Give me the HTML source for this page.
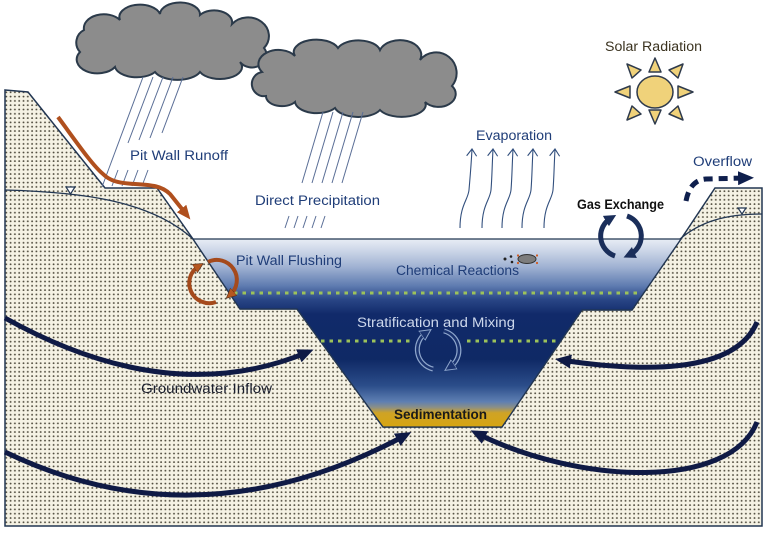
<!DOCTYPE html>
<html><head><meta charset="utf-8"><style>
html,body{margin:0;padding:0;background:#fff;}
svg{display:block;}
text{font-family:"Liberation Sans",sans-serif;}
</style></head><body>
<svg width="768" height="534" viewBox="0 0 768 534" xmlns="http://www.w3.org/2000/svg">
<defs>
<pattern id="dots" width="4.3" height="4.3" patternUnits="userSpaceOnUse">
<rect width="4.3" height="4.3" fill="#f5f2e4"/>
<circle cx="2" cy="2" r="0.9" fill="#4e4a3c"/>
</pattern>
<linearGradient id="water" gradientUnits="userSpaceOnUse" x1="0" y1="239" x2="0" y2="427">
<stop offset="0" stop-color="#e8edf5"/>
<stop offset="0.06" stop-color="#cdd7e8"/>
<stop offset="0.15" stop-color="#9fb1d2"/>
<stop offset="0.25" stop-color="#5e7bb0"/>
<stop offset="0.32" stop-color="#2a4787"/>
<stop offset="0.40" stop-color="#112a6a"/>
<stop offset="0.64" stop-color="#0f2965"/>
<stop offset="0.78" stop-color="#2b4d8a"/>
<stop offset="0.865" stop-color="#5e7fb2"/>
<stop offset="0.895" stop-color="#8a8f88"/>
<stop offset="0.925" stop-color="#cfa325"/>
<stop offset="1" stop-color="#d6a512"/>
</linearGradient>
<marker id="navyHead" markerUnits="userSpaceOnUse" viewBox="0 0 16 14" markerWidth="16" markerHeight="14" refX="10" refY="7" orient="auto">
<path d="M0,0 L16,7 L0,14 Z" fill="#0f1a45"/>
</marker>
<marker id="gasHead" markerUnits="userSpaceOnUse" viewBox="0 0 12 12" markerWidth="12" markerHeight="12" refX="6" refY="6" orient="auto">
<path d="M0,0 L12,6 L0,12 Z" fill="#1a2e5a"/>
</marker>
<marker id="brownHead" markerUnits="userSpaceOnUse" viewBox="0 0 14 12" markerWidth="14" markerHeight="12" refX="7" refY="6" orient="auto">
<path d="M0,0 L14,6 L0,12 Z" fill="#b0501e"/>
</marker>
<marker id="brownHead2" markerUnits="userSpaceOnUse" viewBox="0 0 10 10" markerWidth="10" markerHeight="10" refX="5" refY="5" orient="auto">
<path d="M0,0 L10,5 L0,10 Z" fill="#b5561f" stroke="#4a2a18" stroke-width="0.6"/>
</marker>
<marker id="strHead" markerUnits="userSpaceOnUse" viewBox="0 0 12 12" markerWidth="12" markerHeight="12" refX="5" refY="6" orient="auto">
<path d="M0,0.5 L11,6 L0,11.5 Z" fill="#1a3370" stroke="#8ea6cc" stroke-width="1"/>
</marker>
<marker id="evapHead" markerUnits="userSpaceOnUse" viewBox="0 0 10 12" markerWidth="10" markerHeight="12" refX="8" refY="6" orient="auto">
<path d="M1,1 L8,6 L1,11" fill="none" stroke="#33507e" stroke-width="1.1"/>
</marker>
<marker id="ovHead" markerUnits="userSpaceOnUse" viewBox="0 0 16 14" markerWidth="16" markerHeight="14" refX="8" refY="7" orient="auto">
<path d="M0,0 L16,7 L0,14 Z" fill="#0f1f4d"/>
</marker>
</defs>

<!-- ground -->
<polygon points="5,90 28,92 105,188 157,188 193,239 240,309 297,309 383,427 502,427 582,310 632,310 681,239 715,188 762,188 762,526 5,526" fill="url(#dots)" stroke="#223652" stroke-width="1.5"/>

<!-- water -->
<polygon points="193,239 681,239 632,310 582,310 502,427 383,427 297,309 240,309" fill="url(#water)" stroke="#223652" stroke-width="1.3"/>

<!-- water tables -->
<path d="M5,190 C80,192 150,200 193,239" fill="none" stroke="#223652" stroke-width="1.3"/>
<polygon points="66,187 75,187 70.5,194" fill="#fff" stroke="#223652" stroke-width="1.2"/>
<path d="M680,239 C700,222 725,214 762,214" fill="none" stroke="#223652" stroke-width="1.3"/>
<polygon points="738,208 746,208 742,214" fill="#fff" stroke="#223652" stroke-width="1.2"/>

<!-- green dotted layers -->
<line x1="234" y1="293" x2="642" y2="293" stroke="#9cc25a" stroke-width="3" stroke-dasharray="3.5 5"/>
<line x1="321" y1="341" x2="410" y2="341" stroke="#9cc25a" stroke-width="3" stroke-dasharray="3.5 5"/>
<line x1="467" y1="341" x2="559" y2="341" stroke="#9cc25a" stroke-width="3" stroke-dasharray="3.5 5"/>

<!-- clouds -->
<path d="M80,52 A14,14 0 0 1 84,30 A20,14 0 0 1 120,20 A20,12 0 0 1 160,14 A20,12 0 0 1 200,15 A18,12 0 0 1 232,24 A18,16 0 0 1 264,48 A14,12 0 0 1 240,62 A22,12 0 0 1 200,72 A24,12 0 0 1 155,72 A22,12 0 0 1 115,67 A18,12 0 0 1 80,52 Z" fill="#8c8c8c" stroke="#2b3a4a" stroke-width="2"/>
<path d="M266,96 A12,12 0 0 1 262,72 A20,14 0 0 1 295,56 A22,12 0 0 1 338,48 A22,12 0 0 1 380,50 A20,14 0 0 1 420,60 A16,16 0 0 1 452,86 A16,12 0 0 1 425,102 A24,12 0 0 1 380,110 A24,12 0 0 1 335,108 A22,12 0 0 1 295,102 A16,10 0 0 1 266,96 Z" fill="#8c8c8c" stroke="#2b3a4a" stroke-width="2"/>

<!-- rain cloud 1 -->
<g stroke="#5a6e96" stroke-width="1" fill="none">
<line x1="143" y1="77" x2="102" y2="187"/>
<line x1="153" y1="77" x2="128" y2="143"/>
<line x1="163" y1="77" x2="139" y2="140"/>
<line x1="173" y1="77" x2="150" y2="138"/>
<line x1="183" y1="77" x2="162" y2="133"/>
<line x1="118" y1="170" x2="112" y2="186"/>
<line x1="128" y1="170" x2="122" y2="186"/>
<line x1="138" y1="170" x2="132" y2="186"/>
<line x1="148" y1="170" x2="142" y2="186"/>
<!-- rain cloud 2 -->
<line x1="323" y1="112" x2="302" y2="183"/>
<line x1="333" y1="112" x2="312" y2="183"/>
<line x1="343" y1="112" x2="322" y2="183"/>
<line x1="353" y1="112" x2="332" y2="183"/>
<line x1="363" y1="112" x2="342" y2="183"/>
<line x1="289" y1="216" x2="285" y2="228"/>
<line x1="298" y1="216" x2="294" y2="228"/>
<line x1="307" y1="216" x2="303" y2="228"/>
<line x1="316" y1="216" x2="312" y2="228"/>
<line x1="325" y1="216" x2="321" y2="228"/>
</g>

<!-- runoff arrow -->
<path d="M58,117 C75,140 92,165 103,174 C110,181 118,183 135,184 C152,185 162,186 170,194 L186,214" fill="none" stroke="#b0501e" stroke-width="4" marker-end="url(#brownHead)"/>

<!-- sun -->
<g fill="#f0d27a" stroke="#2e3a4c" stroke-width="1.5" stroke-linejoin="round">
<polygon points="655,58 649,72 661,72"/>
<polygon points="655,124 649,110 661,110"/>
<polygon points="615,92 630,86 630,98"/>
<polygon points="693,92 678,86 678,98"/>
<polygon points="627,64 632,78 641,70"/>
<polygon points="683,64 678,78 669,70"/>
<polygon points="627,120 632,106 641,114"/>
<polygon points="683,120 678,106 669,114"/>
<ellipse cx="655" cy="92" rx="18" ry="16"/>
</g>

<!-- evaporation -->
<g fill="none" stroke="#33507e" stroke-width="1.1" marker-end="url(#evapHead)">
<path d="M460,228 C460,205 468,200 469,190 C470,178 471,168 472,149"/>
<path d="M482,228 C482,205 490,200 491,190 C492,178 492,168 493,149"/>
<path d="M502,228 C502,205 510,200 511,190 C512,178 512,168 513,149"/>
<path d="M522,228 C522,205 530,200 531,190 C532,178 532,168 533,149"/>
<path d="M544,228 C544,205 552,200 553,190 C554,178 554,168 555,149"/>
</g>

<!-- gas exchange -->
<g fill="none" stroke="#1a2e5a" stroke-width="5">
<path d="M615,256 A21,21 0 0 1 611,218" marker-end="url(#gasHead)"/>
<path d="M627,216 A21,21 0 0 1 629,255" marker-end="url(#gasHead)"/>
</g>

<!-- overflow -->
<path d="M686,201 Q690,180 706,179 L746,178" fill="none" stroke="#0f1f4d" stroke-width="5" stroke-dasharray="9 6" marker-end="url(#ovHead)"/>

<!-- pit wall flushing -->
<g fill="none" stroke="#a54a1c" stroke-width="4">
<path d="M216,302 A20,20 0 0 1 199,266" marker-end="url(#brownHead2)"/>
<path d="M208,262 A20,20 0 0 1 230,295" marker-end="url(#brownHead2)"/>
</g>

<!-- stratification mixing arrows -->
<g fill="none">
<path d="M433,369 A20,20 0 0 1 426,333" stroke="#8ea6cc" stroke-width="5"/>
<path d="M433,369 A20,20 0 0 1 426,333" stroke="#1a3370" stroke-width="2.5" marker-end="url(#strHead)"/>
<path d="M444,331 A20,20 0 0 1 450,367" stroke="#8ea6cc" stroke-width="5"/>
<path d="M444,331 A20,20 0 0 1 450,367" stroke="#1a3370" stroke-width="2.5" marker-end="url(#strHead)"/>
</g>

<!-- chemical reactions icon -->
<ellipse cx="527" cy="259" rx="9" ry="4.5" fill="#7d7d7d" stroke="#333" stroke-width="1"/>
<circle cx="505" cy="259" r="1.5" fill="#222"/>
<circle cx="511" cy="256.5" r="1.3" fill="#222"/>
<circle cx="512" cy="262" r="1.3" fill="#222"/>
<circle cx="518" cy="255.5" r="1.1" fill="#d05a20"/>
<circle cx="537" cy="255.5" r="1.1" fill="#d05a20"/>
<circle cx="518" cy="263" r="1.1" fill="#d05a20"/>
<circle cx="537" cy="263" r="1.1" fill="#d05a20"/>

<!-- groundwater arrows -->
<g fill="none" stroke="#0f1a45" stroke-width="5" marker-end="url(#navyHead)">
<path d="M5,318 Q170,410 308,352"/>
<path d="M5,452 Q200,546 406,435"/>
<path d="M757,322 C735,375 640,372 561,360"/>
<path d="M757,422 C730,490 580,485 476,433"/>
</g>

<!-- labels -->
<g font-size="13.5">
<text x="130" y="160" fill="#1f3d78" textLength="98" lengthAdjust="spacingAndGlyphs">Pit Wall Runoff</text>
<text x="255" y="205" fill="#1f3d78" textLength="125" lengthAdjust="spacingAndGlyphs">Direct Precipitation</text>
<text x="236" y="265" fill="#1f3d78" textLength="106" lengthAdjust="spacingAndGlyphs">Pit Wall Flushing</text>
<text x="396" y="275" fill="#1f3d78" textLength="123" lengthAdjust="spacingAndGlyphs">Chemical Reactions</text>
<text x="357" y="327" fill="#cdd8ec" textLength="158" lengthAdjust="spacingAndGlyphs">Stratification and Mixing</text>
<text x="141" y="393" fill="#1a1f2e" textLength="131" lengthAdjust="spacingAndGlyphs">Groundwater Inflow</text>
<text x="394" y="419" fill="#1a1a1a" font-weight="bold" textLength="93" lengthAdjust="spacingAndGlyphs">Sedimentation</text>
<text x="476" y="140" fill="#1f3d78" textLength="76" lengthAdjust="spacingAndGlyphs">Evaporation</text>
<text x="605" y="51" fill="#3b3320" textLength="97" lengthAdjust="spacingAndGlyphs">Solar Radiation</text>
<text x="693" y="166" fill="#1f3d78" textLength="59" lengthAdjust="spacingAndGlyphs">Overflow</text>
<text x="577" y="209" fill="#111" font-weight="bold" textLength="87" lengthAdjust="spacingAndGlyphs">Gas Exchange</text>
</g>
</svg>
</body></html>
